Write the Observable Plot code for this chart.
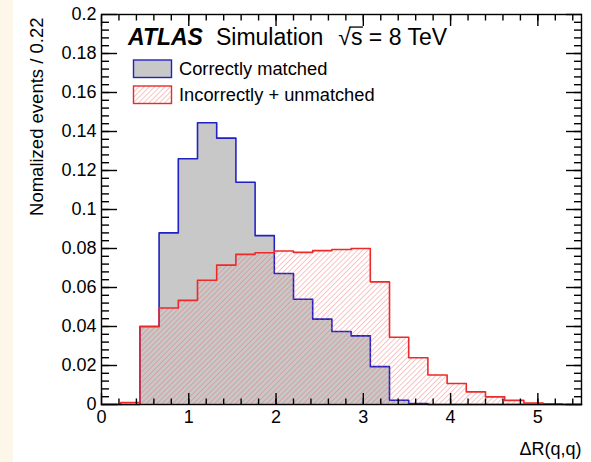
<!DOCTYPE html>
<html>
<head>
<meta charset="utf-8">
<script src="https://cdn.jsdelivr.net/npm/d3@7"></script>
<script src="https://cdn.jsdelivr.net/npm/@observablehq/plot@0.6"></script>
<style>
  body { margin: 0; background: #ffffff; }
  #chart svg { display: block; }
</style>
</head>
<body>
<div id="chart"></div>
<script>
// Lower edges of the ΔR(q,q) bins (bin width 0.22), plus the upper edge of the last bin
const binLow = [0, 0.22, 0.44, 0.66, 0.88, 1.10, 1.32, 1.54, 1.76, 1.98, 2.20, 2.42, 2.64,
                2.86, 3.08, 3.30, 3.52, 3.74, 3.96, 4.18, 4.40, 4.62, 4.84, 5.06, 5.28];
const binHigh = 5.5;

// Normalized event fractions per bin
const correctlyMatched = [0, 0, 0.040, 0.088, 0.126, 0.1445, 0.1366, 0.114, 0.0866, 0.0672,
                          0.054, 0.0438, 0.0374, 0.0352, 0.0194, 0.0022, 0.0005, 0, 0, 0,
                          0, 0, 0, 0, 0];
const incorrectlyUnmatched = [0, 0.001, 0.040, 0.0495, 0.0534, 0.0637, 0.0715, 0.077, 0.0778,
                              0.0787, 0.078, 0.0789, 0.0795, 0.080, 0.0629, 0.0345, 0.024,
                              0.0151, 0.0108, 0.0065, 0.0039, 0.0021, 0.0008, 0.0003, 0];

const seriesNames = ["Correctly matched", "Incorrectly + unmatched"];

// Axis ticks and labels
const xMajorTicks = [0, 1, 2, 3, 4, 5];
const xTickLabels = ["0", "1", "2", "3", "4", "5"];
const yMajorTicks = [0, 0.02, 0.04, 0.06, 0.08, 0.1, 0.12, 0.14, 0.16, 0.18, 0.2];
const yTickLabels = ["0", "0.02", "0.04", "0.06", "0.08", "0.1", "0.12", "0.14", "0.16", "0.18", "0.2"];
const xMinorTicks = d3.range(1, 28).map(i => i * 0.2);
const yMinorTicks = d3.range(1, 50).map(i => i * 0.004);

const xTitle = "ΔR(q,q)";
const yTitle = "Nomalized events / 0.22";
const headerParts = ["ATLAS", "Simulation", "√s = 8 TeV"];

// Step outline points: one per bin edge, closing at the upper edge of the last bin
function steps(values) {
  const pts = binLow.map((x, i) => ({x, y: values[i]}));
  pts.push({x: binHigh, y: values[values.length - 1]});
  return pts;
}
const stepsCorrect = steps(correctlyMatched);
const stepsIncorrect = steps(incorrectlyUnmatched);

const FONT = "'Liberation Sans', Arial, Helvetica, sans-serif";
const GRAY = "#c8c8c8";
const BLUE = "#2222c4";
const RED = "#ec2a2a";

const tickStyle = {stroke: "black", strokeWidth: 1.4, fill: "none", label: null};

const chart = Plot.plot({
  width: 591,
  height: 462,
  marginLeft: 101,
  marginRight: 10,
  marginTop: 14,
  marginBottom: 58,
  x: {domain: [0, 5.5]},
  y: {domain: [0, 0.2]},
  style: {fontFamily: FONT, fontSize: "18px", color: "black", background: "transparent", overflow: "visible"},
  marks: [
    Plot.areaY(stepsCorrect, {x: "x", y: "y", curve: "step-after", fill: GRAY}),
    Plot.lineY(stepsCorrect, {x: "x", y: "y", curve: "step-after", stroke: BLUE, strokeWidth: 1.6}),
    Plot.areaY(stepsIncorrect, {x: "x", y: "y", curve: "step-after", fill: "url(#hatchRed)"}),
    Plot.lineY(stepsIncorrect, {x: "x", y: "y", curve: "step-after", stroke: RED, strokeWidth: 1.6}),
    Plot.frame({stroke: "black", strokeWidth: 1.4}),
    // inward ticks on all four sides
    Plot.axisX(xMajorTicks, {anchor: "bottom", tickSize: -11, ...tickStyle}),
    Plot.axisX(xMinorTicks, {anchor: "bottom", tickSize: -5.5, ...tickStyle}),
    Plot.axisX(xMajorTicks, {anchor: "top", tickSize: -11, ...tickStyle}),
    Plot.axisX(xMinorTicks, {anchor: "top", tickSize: -5.5, ...tickStyle}),
    Plot.axisY(yMajorTicks, {anchor: "left", tickSize: -16, ...tickStyle}),
    Plot.axisY(yMinorTicks, {anchor: "left", tickSize: -8, ...tickStyle}),
    Plot.axisY(yMajorTicks, {anchor: "right", tickSize: -16, ...tickStyle}),
    Plot.axisY(yMinorTicks, {anchor: "right", tickSize: -8, ...tickStyle}),
    // tick labels
    Plot.axisX(xMajorTicks, {anchor: "bottom", tickSize: 0, tickPadding: 6, label: null,
      tickFormat: (d, i) => xTickLabels[i], fill: "black"}),
    Plot.axisY(yMajorTicks, {anchor: "left", tickSize: 0, tickPadding: 5, label: null,
      tickFormat: (d, i) => yTickLabels[i], fill: "black"}),
    // axis titles
    Plot.text([xTitle], {frameAnchor: "bottom-right", textAnchor: "end", lineAnchor: "top",
      dy: 38, fontSize: 18, fill: "black"}),
    Plot.text([yTitle], {frameAnchor: "top-left", textAnchor: "end", lineAnchor: "middle",
      rotate: -90, dx: -64, dy: 3, fontSize: 18.5, fill: "black"})
  ]
});

const svg = d3.select(chart);

// hatch pattern used by the "Incorrectly + unmatched" histogram and its legend swatch
const defs = svg.insert("defs", ":first-child");
const pat = defs.append("pattern")
  .attr("id", "hatchRed")
  .attr("patternUnits", "userSpaceOnUse")
  .attr("width", 3.7).attr("height", 3.7)
  .attr("patternTransform", "rotate(45)");
pat.append("line")
  .attr("x1", 0).attr("y1", 0).attr("x2", 0).attr("y2", 3.7)
  .attr("stroke", "#ee5a5a").attr("stroke-width", 0.9).attr("stroke-opacity", 0.8);

// cream strip along the left edge of the page
svg.insert("rect", "defs + *")
  .attr("x", 0).attr("y", 0).attr("width", 13).attr("height", 462)
  .attr("fill", "#fdf7ea");

// header: ATLAS Simulation √s = 8 TeV
const HEAD_SIZE = 23;
const header = svg.append("text")
  .attr("x", 128).attr("y", 45).attr("text-anchor", "start")
  .attr("font-family", FONT).attr("font-size", HEAD_SIZE).attr("fill", "black");
header.append("tspan").attr("font-weight", "bold").attr("font-style", "italic").text(headerParts[0]);
header.append("tspan").attr("dx", 13).text(headerParts[1]);
header.append("tspan").attr("dx", 15).text(headerParts[2]);

// legend
const legend = svg.append("g").attr("font-family", FONT).attr("font-size", 18.3)
  .attr("fill", "black").attr("text-anchor", "start");
const swatches = [
  {fill: GRAY, stroke: BLUE, y: 60},
  {fill: "url(#hatchRed)", stroke: RED, y: 86}
];
swatches.forEach((s, i) => {
  legend.append("rect")
    .attr("x", 133.5).attr("y", s.y).attr("width", 38).attr("height", 17.5)
    .attr("fill", s.fill).attr("stroke", s.stroke).attr("stroke-width", 1.4);
  legend.append("text")
    .attr("x", 179).attr("y", s.y + 14.5)
    .text(seriesNames[i]);
});

document.getElementById("chart").append(chart);

// bar of the square root, extended over the "s"
const fullText = headerParts.join("");
const iRoot = fullText.indexOf("√");
const node = header.node();
const rootBox = node.getExtentOfChar(iRoot);
const sBox = node.getExtentOfChar(iRoot + 1);
const barY = 45 - HEAD_SIZE * 0.78;
svg.append("line")
  .attr("x1", rootBox.x + rootBox.width - 1.5).attr("x2", sBox.x + sBox.width + 0.5)
  .attr("y1", barY).attr("y2", barY)
  .attr("stroke", "black").attr("stroke-width", 1.3);
</script>
</body>
</html>
